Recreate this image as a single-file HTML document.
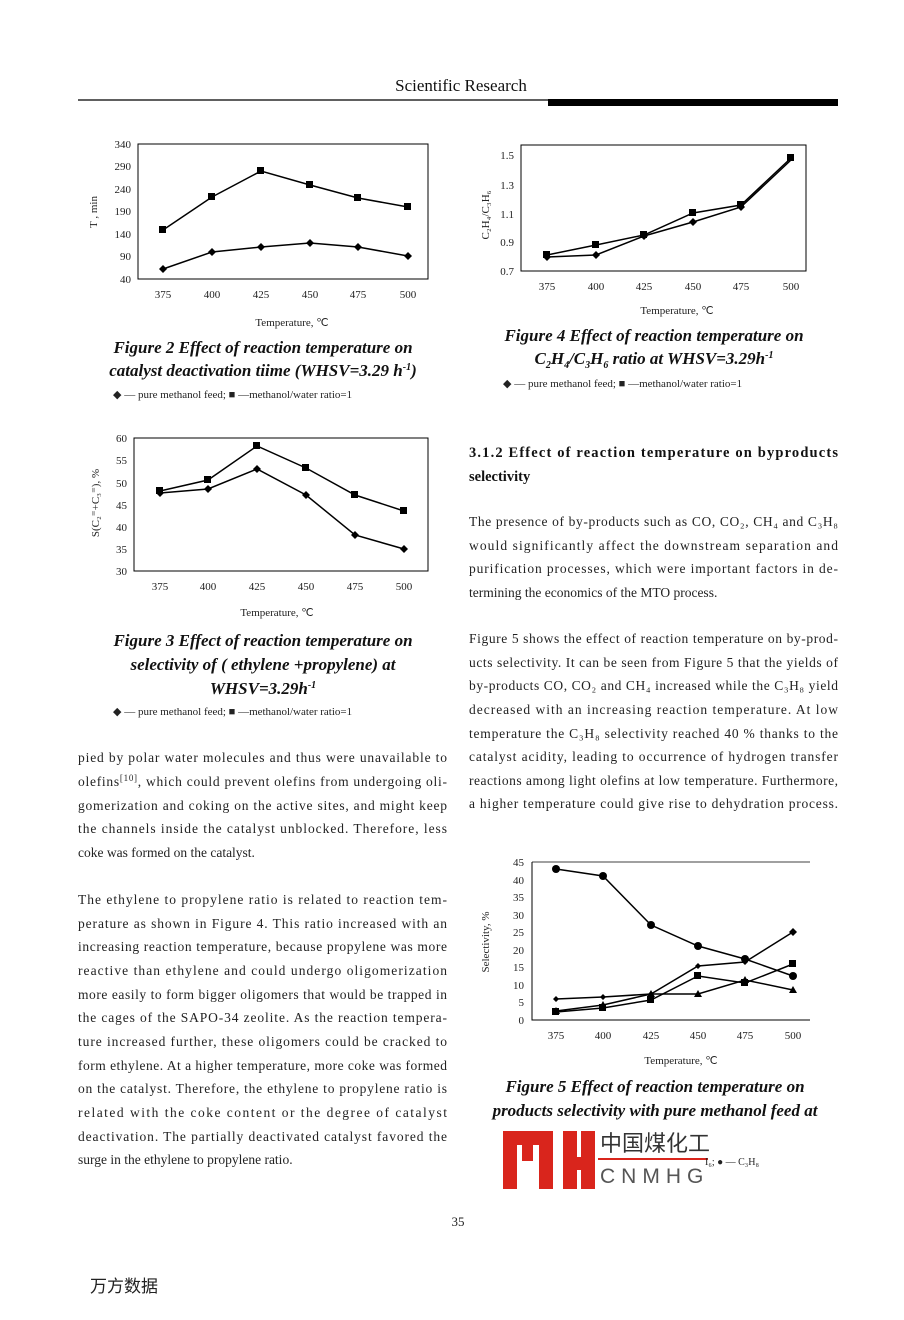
<!DOCTYPE html>
<html><head><meta charset="utf-8"><style>
body{margin:0;background:#fff;}
svg{display:block;font-family:"Liberation Serif",serif;}
.t{font-size:13.5px;fill:#222;}
.s{font-size:11px;fill:#222;}
.c{font-size:17px;font-weight:bold;font-style:italic;fill:#111;}
.l{font-size:11px;fill:#222;}
</style></head><body>
<svg width="904" height="1320" viewBox="0 0 904 1320" xmlns="http://www.w3.org/2000/svg">
<text x="461" y="91" text-anchor="middle" font-size="17" fill="#111" style="font-family:'Liberation Serif',serif">Scientific Research</text>
<line x1="78" y1="100" x2="838" y2="100" stroke="#000" stroke-width="1.2"/>
<rect x="548" y="99" width="290" height="7" fill="#000"/>

<!-- Fig 2 -->
<g fill="none" stroke="#000" stroke-width="1">
<rect x="138" y="144" width="290" height="135"/>
<polyline points="163,230 212,197 261,171 310,185 358,198 408,207" stroke-width="1.5"/>
<polyline points="163,269 212,252 261,247 310,243 358,247 408,256" stroke-width="1.5"/>
</g>
<g fill="#000">
<rect x="159" y="226" width="7" height="7"/><rect x="208" y="193" width="7" height="7"/><rect x="257" y="167" width="7" height="7"/><rect x="306" y="181" width="7" height="7"/><rect x="354" y="194" width="7" height="7"/><rect x="404" y="203" width="7" height="7"/>
<path d="M163,265l4,4l-4,4l-4,-4z M212,248l4,4l-4,4l-4,-4z M261,243l4,4l-4,4l-4,-4z M310,239l4,4l-4,4l-4,-4z M358,243l4,4l-4,4l-4,-4z M408,252l4,4l-4,4l-4,-4z"/>
</g>
<g class="s" text-anchor="end"><text x="131" y="148">340</text><text x="131" y="170">290</text><text x="131" y="193">240</text><text x="131" y="215">190</text><text x="131" y="238">140</text><text x="131" y="260">90</text><text x="131" y="283">40</text></g>
<g class="s" text-anchor="middle"><text x="163" y="298">375</text><text x="212" y="298">400</text><text x="261" y="298">425</text><text x="310" y="298">450</text><text x="358" y="298">475</text><text x="408" y="298">500</text><text x="292" y="326">Temperature, ℃</text></g>
<text class="s" transform="translate(97,212) rotate(-90)" text-anchor="middle">T , min</text>
<text class="c" x="263" y="353" text-anchor="middle">Figure 2  Effect of reaction temperature on</text>
<text class="c" x="263" y="376" text-anchor="middle">catalyst deactivation tiime (WHSV=3.29 h<tspan font-size="10" dy="-6">-1</tspan><tspan dy="6">)</tspan></text>
<text class="l" x="113" y="398">◆ — pure methanol feed; ■ —methanol/water ratio=1</text>

<!-- Fig 3 -->
<g fill="none" stroke="#000">
<rect x="134" y="438" width="294" height="133"/>
<polyline points="160,491 208,480 257,446 306,468 355,495 404,511" stroke-width="1.5"/>
<polyline points="160,493 208,489 257,469 306,495 355,535 404,549" stroke-width="1.5"/>
</g>
<g fill="#000">
<rect x="156" y="487" width="7" height="7"/><rect x="204" y="476" width="7" height="7"/><rect x="253" y="442" width="7" height="7"/><rect x="302" y="464" width="7" height="7"/><rect x="351" y="491" width="7" height="7"/><rect x="400" y="507" width="7" height="7"/>
<path d="M160,489l4,4l-4,4l-4,-4z M208,485l4,4l-4,4l-4,-4z M257,465l4,4l-4,4l-4,-4z M306,491l4,4l-4,4l-4,-4z M355,531l4,4l-4,4l-4,-4z M404,545l4,4l-4,4l-4,-4z"/>
</g>
<g class="s" text-anchor="end"><text x="127" y="442">60</text><text x="127" y="464">55</text><text x="127" y="487">50</text><text x="127" y="509">45</text><text x="127" y="531">40</text><text x="127" y="553">35</text><text x="127" y="575">30</text></g>
<g class="s" text-anchor="middle"><text x="160" y="590">375</text><text x="208" y="590">400</text><text x="257" y="590">425</text><text x="306" y="590">450</text><text x="355" y="590">475</text><text x="404" y="590">500</text><text x="277" y="616">Temperature, ℃</text></g>
<text class="s" transform="translate(99,503) rotate(-90)" text-anchor="middle">S(C₂⁼+C₃⁼), %</text>
<text class="c" x="263" y="646" text-anchor="middle">Figure 3  Effect of reaction temperature on</text>
<text class="c" x="263" y="670" text-anchor="middle">selectivity of ( ethylene +propylene)  at</text>
<text class="c" x="263" y="694" text-anchor="middle">WHSV=3.29h<tspan font-size="10" dy="-6">-1</tspan></text>
<text class="l" x="113" y="715">◆ — pure methanol feed; ■ —methanol/water ratio=1</text>

<!-- left body -->
<g class="t" lengthAdjust="spacing">
<text x="78" y="762" textLength="369">pied by polar water molecules and thus were unavailable to</text>
<text x="78" y="786" textLength="369">olefins<tspan font-size="9" dy="-5">[10]</tspan><tspan dy="5">, which could prevent olefins from undergoing oli-</tspan></text>
<text x="78" y="810" textLength="369">gomerization and coking on the active sites, and might keep</text>
<text x="78" y="833" textLength="369">the channels inside the catalyst unblocked. Therefore, less</text>
<text x="78" y="857">coke was formed on the catalyst.</text>
<text x="78" y="904" textLength="369">The ethylene to propylene ratio is related to reaction tem-</text>
<text x="78" y="928" textLength="369">perature as shown in Figure 4. This ratio increased with an</text>
<text x="78" y="951" textLength="369">increasing reaction temperature, because propylene was more</text>
<text x="78" y="975" textLength="369">reactive than ethylene and could undergo oligomerization</text>
<text x="78" y="999" textLength="369">more easily to form bigger oligomers that would be trapped in</text>
<text x="78" y="1022" textLength="369">the cages of the SAPO-34 zeolite. As the reaction tempera-</text>
<text x="78" y="1046" textLength="369">ture increased further, these oligomers could be cracked to</text>
<text x="78" y="1070" textLength="369">form ethylene. At a higher temperature, more coke was formed</text>
<text x="78" y="1093" textLength="369">on the catalyst. Therefore, the ethylene to propylene ratio is</text>
<text x="78" y="1117" textLength="369">related with the coke content or the degree of catalyst</text>
<text x="78" y="1141" textLength="369">deactivation. The partially deactivated catalyst favored the</text>
<text x="78" y="1164">surge in the ethylene to propylene ratio.</text>
</g>

<!-- Fig 4 -->
<g fill="none" stroke="#000">
<rect x="521" y="145" width="285" height="126"/>
<polyline points="547,255 596,245 644,235 693,213 741,205 791,158" stroke-width="1.5"/>
<polyline points="547,257 596,255 644,236 693,222 741,207 791,160" stroke-width="1.5"/>
</g>
<g fill="#000">
<rect x="543" y="251" width="7" height="7"/><rect x="592" y="241" width="7" height="7"/><rect x="640" y="231" width="7" height="7"/><rect x="689" y="209" width="7" height="7"/><rect x="737" y="201" width="7" height="7"/><rect x="787" y="154" width="7" height="7"/>
<path d="M547,253l4,4l-4,4l-4,-4z M596,251l4,4l-4,4l-4,-4z M644,232l4,4l-4,4l-4,-4z M693,218l4,4l-4,4l-4,-4z M741,203l4,4l-4,4l-4,-4z"/>
</g>
<g class="s" text-anchor="end"><text x="514" y="159">1.5</text><text x="514" y="189">1.3</text><text x="514" y="218">1.1</text><text x="514" y="246">0.9</text><text x="514" y="275">0.7</text></g>
<g class="s" text-anchor="middle"><text x="547" y="290">375</text><text x="596" y="290">400</text><text x="644" y="290">425</text><text x="693" y="290">450</text><text x="741" y="290">475</text><text x="791" y="290">500</text><text x="677" y="314">Temperature, ℃</text></g>
<text class="s" transform="translate(489,215) rotate(-90)" text-anchor="middle">C₂H₄/C₃H₆</text>
<text class="c" x="654" y="341" text-anchor="middle">Figure 4  Effect of reaction temperature on</text>
<text class="c" x="654" y="364" text-anchor="middle">C<tspan font-size="10" dy="4">2</tspan><tspan dy="-4">H</tspan><tspan font-size="10" dy="4">4</tspan><tspan dy="-4">/C</tspan><tspan font-size="10" dy="4">3</tspan><tspan dy="-4">H</tspan><tspan font-size="10" dy="4">6</tspan><tspan dy="-4"> ratio at WHSV=3.29h</tspan><tspan font-size="10" dy="-6">-1</tspan></text>
<text class="l" x="503" y="387">◆ — pure methanol feed; ■ —methanol/water ratio=1</text>

<g font-size="14.5" font-weight="bold" fill="#111"><text x="469" y="457" textLength="369" lengthAdjust="spacing">3.1.2 Effect of reaction temperature on byproducts</text><text x="469" y="481">selectivity</text></g>
<g class="t">
<text x="469" y="526" textLength="369" lengthAdjust="spacing">The presence of by-products such as CO, CO₂, CH₄ and C₃H₈</text>
<text x="469" y="550" textLength="369" lengthAdjust="spacing">would significantly affect the downstream separation and</text>
<text x="469" y="573" textLength="369" lengthAdjust="spacing">purification processes, which were important factors in de-</text>
<text x="469" y="597">termining the economics of the MTO process.</text>
<text x="469" y="643" textLength="369" lengthAdjust="spacing">Figure 5 shows the effect of reaction temperature on by-prod-</text>
<text x="469" y="667" textLength="369" lengthAdjust="spacing">ucts selectivity. It can be seen from Figure 5 that the yields of</text>
<text x="469" y="690" textLength="369" lengthAdjust="spacing">by-products CO, CO₂ and CH₄ increased while the C₃H₈ yield</text>
<text x="469" y="714" textLength="369" lengthAdjust="spacing">decreased with an increasing reaction temperature. At low</text>
<text x="469" y="738" textLength="369" lengthAdjust="spacing">temperature the C₃H₈ selectivity reached 40 % thanks to the</text>
<text x="469" y="761" textLength="369" lengthAdjust="spacing">catalyst acidity, leading to occurrence of  hydrogen transfer</text>
<text x="469" y="785" textLength="369" lengthAdjust="spacing">reactions among light olefins at low temperature. Furthermore,</text>
<text x="469" y="808" textLength="369" lengthAdjust="spacing">a  higher temperature could give rise to dehydration process.</text>
</g>

<!-- Fig 5 -->
<g fill="none" stroke="#000">
<polyline points="532,862 532,1020 810,1020"/>
<line x1="532" y1="862" x2="810" y2="862" stroke-width="0.8"/>
<polyline points="556,869 603,876 651,925 698,946 745,959 793,976" stroke-width="1.5"/>
<polyline points="556,999 603,997 651,994 698,966 745,962 793,932" stroke-width="1.5"/>
<polyline points="556,1012 603,1008 651,1000 698,976 745,983 793,964" stroke-width="1.5"/>
<polyline points="556,1011 603,1005 651,994 698,994 745,980 793,990" stroke-width="1.5"/>
</g>
<g fill="#000">
<circle cx="556" cy="869" r="4"/><circle cx="603" cy="876" r="4"/><circle cx="651" cy="925" r="4"/><circle cx="698" cy="946" r="4"/><circle cx="745" cy="959" r="4"/><circle cx="793" cy="976" r="4"/>
<path d="M556,996l3,3l-3,3l-3,-3z M603,994l3,3l-3,3l-3,-3z M651,991l3,3l-3,3l-3,-3z M698,963l3,3l-3,3l-3,-3z M745,959l3,3l-3,3l-3,-3z M793,928l4,4l-4,4l-4,-4z"/>
<rect x="552" y="1008" width="7" height="7"/><rect x="599" y="1004" width="7" height="7"/><rect x="647" y="996" width="7" height="7"/><rect x="694" y="972" width="7" height="7"/><rect x="741" y="979" width="7" height="7"/><rect x="789" y="960" width="7" height="7"/>
<path d="M556,1007l4,7h-8z M603,1001l4,7h-8z M651,990l4,7h-8z M698,990l4,7h-8z M745,976l4,7h-8z M793,986l4,7h-8z"/>
</g>
<g class="s" text-anchor="end"><text x="524" y="866">45</text><text x="524" y="884">40</text><text x="524" y="901">35</text><text x="524" y="919">30</text><text x="524" y="936">25</text><text x="524" y="954">20</text><text x="524" y="971">15</text><text x="524" y="989">10</text><text x="524" y="1006">5</text><text x="524" y="1024">0</text></g>
<g class="s" text-anchor="middle"><text x="556" y="1039">375</text><text x="603" y="1039">400</text><text x="651" y="1039">425</text><text x="698" y="1039">450</text><text x="745" y="1039">475</text><text x="793" y="1039">500</text><text x="681" y="1064">Temperature, ℃</text></g>
<text class="s" transform="translate(489,942) rotate(-90)" text-anchor="middle">Selectivity, %</text>
<text class="c" x="655" y="1092" text-anchor="middle">Figure 5  Effect of reaction temperature on</text>
<text class="c" x="655" y="1116" text-anchor="middle">products selectivity with pure methanol feed at</text>

<!-- logo -->
<g fill="#d9251c">
<rect x="503" y="1131" width="14" height="58"/><rect x="503" y="1131" width="50" height="14"/><rect x="522" y="1131" width="11" height="30"/>
<rect x="539" y="1131" width="14" height="58"/><rect x="563" y="1131" width="14" height="58"/><rect x="563" y="1157" width="30" height="13"/><rect x="581" y="1131" width="14" height="58"/>
<rect x="598" y="1158" width="110" height="2"/>
</g>
<text x="600" y="1151" font-size="22" fill="#333" style="font-family:'Noto Sans CJK SC',sans-serif">中国煤化工</text>
<text x="600" y="1183" font-size="21" fill="#555" letter-spacing="6" style="font-family:'Liberation Sans',sans-serif">CNMHG</text>
<text x="705" y="1165" font-size="10" fill="#222">I₆; ● — C₃H₈</text>

<text x="458" y="1226" text-anchor="middle" font-size="13" fill="#222">35</text>
<text x="90" y="1292" font-size="17" fill="#222" style="font-family:'Noto Sans CJK SC',sans-serif">万方数据</text>
</svg>
</body></html>
